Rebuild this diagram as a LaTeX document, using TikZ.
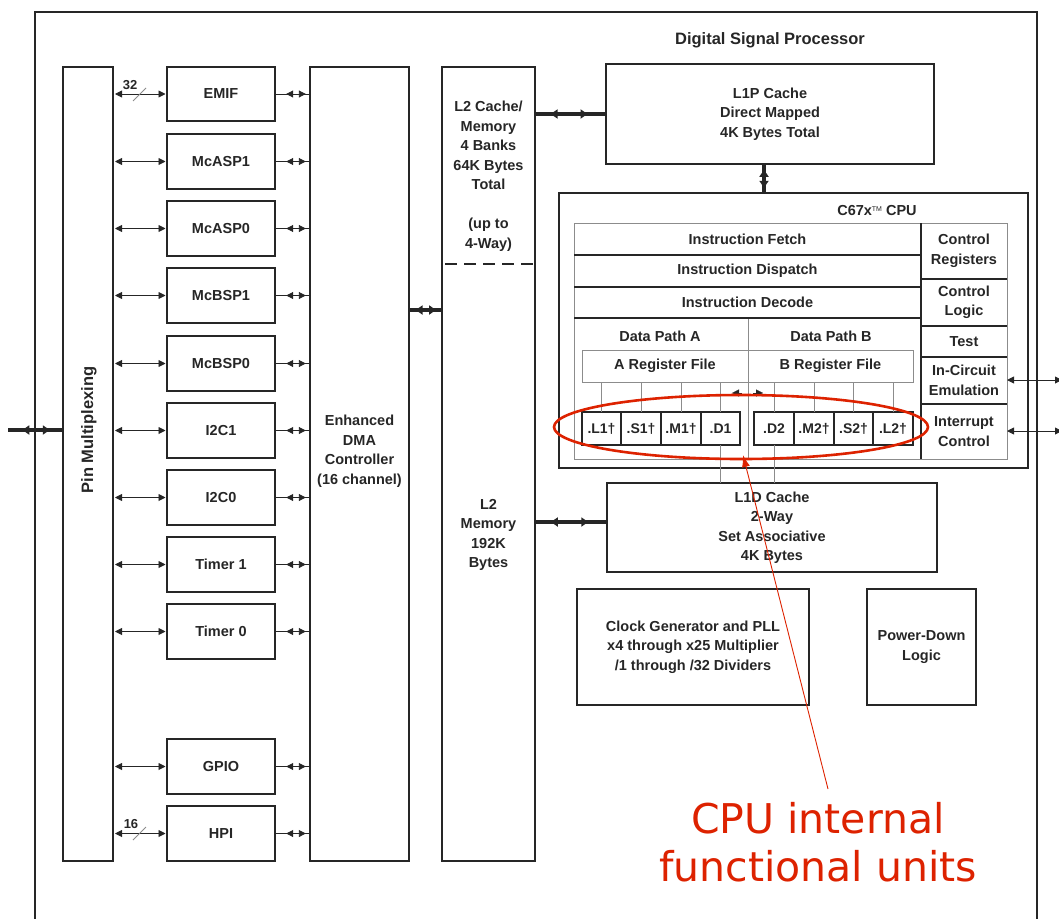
\documentclass[tikz,border=0pt]{standalone}
\usepackage{fontspec}
\setmainfont{Liberation Sans}
\newfontfamily\annfont{DejaVu Sans}
\usetikzlibrary{arrows.meta,decorations.markings,shapes.geometric}
\definecolor{ink}{HTML}{262626}
\definecolor{gridc}{HTML}{8C8C8C}
\definecolor{notec}{HTML}{DD2200}
\newcommand\bx[7][]{%
  \node[#1, minimum width={(#5-#3)*1pt}, minimum height={(#6-#4)*1pt}] (#2) at ({(#3+#5)/2},{(#4+#6)/2}) {#7};}
\tikzset{
  every node/.style={font=\fontsize{14.5}{19.5}\selectfont\bfseries, text=ink, align=center, inner sep=0pt, outer sep=0pt},
  blk/.style={draw=ink, line width=2.4pt},
  cell/.style={draw=gridc, line width=0.7pt},
  unitbox/.style={draw=ink, line width=2.2pt, font=\fontsize{14}{16}\selectfont\bfseries},
  sepline/.style={draw=ink, line width=1.3pt},
  thin/.style={draw=ink, line width=0.9pt},
  tick/.style={draw=gridc, line width=0.8pt},
  tw/.style={{Triangle[length=7pt,width=7pt]}-{Triangle[length=7pt,width=7pt]}},
  inner pair/.style 2 args={postaction={decorate}, decoration={markings,
     mark=at position #1 with {\arrowreversed{Triangle[length=7pt,width=7pt]}},
     mark=at position #2 with {\arrow{Triangle[length=7pt,width=7pt]}}}},
  bus/.style 2 args={draw=ink, line width=3.4pt, postaction={decorate}, decoration={markings,
     mark=at position #1 with {\arrowreversed{Triangle[length=7pt,width=9pt]}},
     mark=at position #2 with {\arrow{Triangle[length=7pt,width=9pt]}}}},
}
\begin{document}
\begin{tikzpicture}[x=1pt,y=-1pt]
\useasboundingbox (0,0) rectangle (1059,918);
\clip (0,0) rectangle (1059,918);
% outer DSP frame
\coordinate (dspbl) at (35,930);
\coordinate (dsptl) at (35,12);
\coordinate (dsptr) at (1037,12);
\coordinate (dspbr) at (1037,930);
\draw[blk] (dspbl) -- (dsptl) -- (dsptr) -- (dspbr);
\node[font=\fontsize{16.5}{19}\selectfont\bfseries] (title) at (770,40) {Digital Signal Processor};

% pin multiplexing
\bx[blk]{pin}{63}{67}{113}{861}{}
\node[rotate=90, font=\fontsize{16.5}{19}\selectfont\bfseries] (pinlbl) at (89,430) {Pin Multiplexing};

% peripherals
\bx[blk]{emif}{167}{67}{275}{121}{EMIF}
\bx[blk]{mcasp1}{167}{134}{275}{189}{McASP1}
\bx[blk]{mcasp0}{167}{201}{275}{256}{McASP0}
\bx[blk]{mcbsp1}{167}{268}{275}{323}{McBSP1}
\bx[blk]{mcbsp0}{167}{336}{275}{391}{McBSP0}
\bx[blk]{itwoc1}{167}{403}{275}{458}{I2C1}
\bx[blk]{itwoc0}{167}{470}{275}{525}{I2C0}
\bx[blk]{timer1}{167}{537}{275}{592}{Timer 1}
\bx[blk]{timer0}{167}{604}{275}{659}{Timer 0}
\bx[blk]{gpio}{167}{739}{275}{794}{GPIO}
\bx[blk]{hpi}{167}{806}{275}{861}{HPI}

% EDMA and L2
\bx[blk]{edma}{310}{67}{409}{861}{}
\node (edmalbl) at (359.5,451) {Enhanced\\DMA\\Controller\\(16 channel)};
\bx[blk]{ltwo}{442}{67}{535}{861}{}
\node (ltwocache) at (488.5,176) {L2 Cache/\\Memory\\4 Banks\\64K Bytes\\Total\\[19.5pt](up to\\4-Way)};
\node (ltwomem) at (488.5,535) {L2\\Memory\\192K\\Bytes};
\coordinate (dashl) at (442,264);
\coordinate (dashr) at (535,264);
\draw[ink, line width=2.4pt, dash pattern=on 12pt off 7pt, dash phase=-3pt] (dashl) -- (dashr);

% connectors pin <-> peripherals, peripherals <-> EDMA
\foreach \p in {emif,mcasp1,mcasp0,mcbsp1,mcbsp0,itwoc1,itwoc0,timer1,timer0,gpio,hpi}{
  \draw[thin, tw, shorten <=2pt, shorten >=1.5pt] (pin.east |- \p.west) -- (\p.west);
  \draw[thin, inner pair={0.32}{0.88}] (\p.east) -- (edma.west |- \p.east);
}
% bus width marks
\node[font=\fontsize{13}{15}\selectfont\bfseries] (w32) at (130,85) {32};
\coordinate (s32a) at (133,101); \coordinate (s32b) at (146,88);
\draw[tick] (s32a) -- (s32b);
\node[font=\fontsize{13}{15}\selectfont\bfseries] (w16) at (131,824) {16};
\coordinate (s16a) at (133,840); \coordinate (s16b) at (146,827);
\draw[tick] (s16a) -- (s16b);

% external pins
\coordinate (extl) at (8,430);
\draw[bus={0.26}{0.76}] (extl) -- (pin.west |- extl);
% EDMA <-> L2
\draw[bus={0.2}{0.82}] (edma.east |- 0,310) -- (ltwo.west |- 0,310);

% L1P
\bx[blk]{lonep}{606}{64}{934}{164}{L1P Cache\\Direct Mapped\\4K Bytes Total}
\draw[bus={0.22}{0.74}] (ltwo.east |- lonep.west) -- (lonep.west);

% CPU
\bx[blk]{cpu}{559}{193}{1028}{468}{}
\draw[bus={0.2}{0.82}] (lonep.south -| 764,0) -- (cpu.north -| 764,0);
\node (cpulbl) at (877,211) {C67x\raisebox{0.55ex}{\fontsize{7}{8}\selectfont\mdseries TM} CPU};

\bx[cell]{ifetch}{574}{223}{921}{255}{Instruction Fetch}
\bx[cell]{idisp}{574}{255}{921}{287}{Instruction Dispatch}
\bx[cell]{idec}{574}{287}{921}{318}{Instruction Decode}
\bx[cell]{dpa}{574}{318}{748}{459}{}
\bx[cell]{dpb}{748}{318}{921}{459}{}
\node (dpalbl) at (660,336) {Data Path A};
\node (dpblbl) at (831,336) {Data Path B};
\bx[cell]{rega}{582}{350}{748}{382}{A Register File}
\bx[cell]{regb}{748}{350}{913}{382}{B Register File}
\bx[cell]{creg}{921}{223}{1007}{279}{Control\\Registers}
\bx[cell]{clog}{921}{279}{1007}{326}{Control\\Logic}
\bx[cell]{test}{921}{326}{1007}{357}{Test}
\bx[cell]{ice}{921}{357}{1007}{404}{In-Circuit\\Emulation}
\bx[cell]{intc}{921}{404}{1007}{459}{Interrupt\\Control}
% dark separators
\draw[sepline] (ifetch.south west) -- (ifetch.south east);
\draw[sepline] (idisp.south west) -- (idisp.south east);
\draw[sepline] (idec.south west) -- (idec.south east);
\draw[sepline] (ifetch.north east) -- (intc.south west);
\draw[sepline] (creg.south west) -- (creg.south east);
\draw[sepline] (clog.south west) -- (clog.south east);
\draw[sepline] (test.south west) -- (test.south east);
\draw[sepline] (ice.south west) -- (ice.south east);

% functional units
\bx[unitbox]{lone}{582}{412}{621}{445}{.L1†}
\bx[unitbox]{sone}{621}{412}{661}{445}{.S1†}
\bx[unitbox]{mone}{661}{412}{701}{445}{.M1†}
\bx[unitbox]{done}{701}{412}{740}{445}{.D1}
\bx[unitbox]{dtwo}{754}{412}{794}{445}{.D2}
\bx[unitbox]{mtwo}{794}{412}{834}{445}{.M2†}
\bx[unitbox]{stwo}{834}{412}{873}{445}{.S2†}
\bx[unitbox]{ltwou}{873}{412}{913}{445}{.L2†}
\foreach \u in {lone,sone,mone,done}{\draw[cell] (rega.south -| \u.north) -- (\u.north);}
\foreach \u in {dtwo,mtwo,stwo,ltwou}{\draw[cell] (regb.south -| \u.north) -- (\u.north);}
% cross paths
\coordinate (xa) at (742,393); \coordinate (xat) at (732,393);
\coordinate (xb) at (753,393); \coordinate (xbt) at (763,393);
\draw[ink, line width=0.3pt, -{Triangle[length=7pt,width=7pt]}] (xa) -- (xat);
\draw[ink, line width=0.3pt, -{Triangle[length=7pt,width=7pt]}] (xb) -- (xbt);

% external CPU pins
\coordinate (icex) at (1062,380);
\coordinate (intx) at (1062,431);
\draw[thin, tw] (ice.east |- icex) -- (icex);
\draw[thin, tw] (intc.east |- intx) -- (intx);

% L1D
\bx[blk]{loned}{607}{483}{937}{572}{L1D Cache\\2-Way\\Set Associative\\4K Bytes}
\draw[cell] (done.south) -- (done.south |- loned.north);
\draw[cell] (dtwo.south) -- (dtwo.south |- loned.north);
\draw[bus={0.22}{0.74}] (ltwo.east |- 0,522) -- (loned.west |- 0,522);

% clock and power-down
\bx[blk]{clk}{577}{589}{809}{705}{Clock Generator and PLL\\x4 through x25 Multiplier\\/1 through /32 Dividers}
\bx[blk]{pwr}{867}{589}{976}{705}{Power-Down\\Logic}

% annotation
\node[draw=notec, line width=2.6pt, ellipse, minimum width=374pt, minimum height=64pt] (fu) at (741,427) {};
\node[font=\annfont\fontsize{41}{48}\selectfont, text=notec] (note) at (818,842) {CPU internal\\functional units};
\coordinate (ptr) at (828,789);
\draw[notec, line width=0.9pt, -{Latex[length=12pt,width=8pt]}] (ptr) -- ([xshift=2pt,yshift=4pt]fu.south);
\end{tikzpicture}
\end{document}
